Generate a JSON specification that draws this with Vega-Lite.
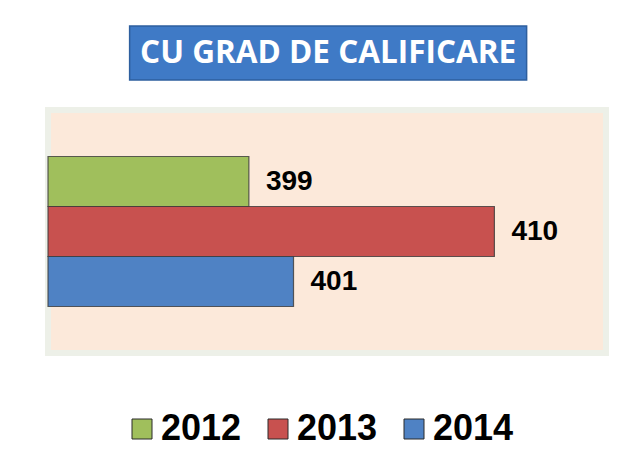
{
  "$schema": "https://vega.github.io/schema/vega-lite/v6.json",
  "background": "#ffffff",
  "padding": {"left": 44, "top": 25, "right": 5, "bottom": 5},
  "center": true,
  "spacing": 26,
  "config": {"view": {"stroke": null}},
  "resolve": {"legend": {"color": "independent"}, "scale": {"color": "independent"}},
  "datasets": {
    "heading": [{"title": "CU GRAD DE CALIFICARE"}],
    "counts": [
      {"year": "2012", "count": 399},
      {"year": "2013", "count": 410},
      {"year": "2014", "count": 401}
    ]
  },
  "vconcat": [
    {
      "width": 397,
      "height": 54,
      "data": {"name": "heading"},
      "layer": [
        {"mark": {"type": "rect", "fill": "#3F7AC6", "stroke": "#2E5F9E", "strokeWidth": 1.5}, "encoding": {}},
        {
          "mark": {"type": "text", "font": "Open Sans", "fontWeight": "bold", "fontSize": 31.5, "color": "#ffffff", "dy": 1},
          "encoding": {"text": {"field": "title", "type": "nominal"}}
        }
      ]
    },
    {
      "width": 558,
      "height": 243,
      "view": {"fill": "#FCE9DA", "stroke": "#EDF0E8", "strokeWidth": 6},
      "data": {"name": "counts"},
      "encoding": {
        "y": {"field": "year", "type": "nominal", "sort": ["2012", "2013", "2014"], "axis": null,
              "scale": {"paddingInner": 0, "paddingOuter": 0.93}},
        "x": {"field": "count", "type": "quantitative", "axis": null,
              "scale": {"domain": [390, 415], "zero": false, "nice": false, "clamp": true}}
      },
      "layer": [
        {
          "mark": {"type": "bar", "stroke": "#3a3a3a", "strokeWidth": 1.2, "strokeOpacity": 0.8},
          "encoding": {
            "color": {
              "field": "year", "type": "nominal",
              "scale": {"domain": ["2012", "2013", "2014"], "range": ["#A0BF5C", "#C8514F", "#4F82C4"]},
              "legend": {
                "orient": "none", "legendX": 76, "legendY": 301,
                "direction": "horizontal", "title": null,
                "symbolType": "square", "symbolSize": 400,
                "symbolStrokeColor": "#2b2b2b", "symbolStrokeWidth": 1,
                "labelFont": "Liberation Sans", "labelFontWeight": "bold", "labelFontSize": 36,
                "labelColor": "#000000", "labelOffset": 1, "columnPadding": 18, "labelLimit": 300
              }
            }
          }
        },
        {
          "mark": {"type": "text", "align": "left", "baseline": "middle", "dx": 17,
                   "font": "Liberation Sans", "fontWeight": "bold", "fontSize": 28, "color": "#000000"},
          "encoding": {"text": {"field": "count", "type": "quantitative"}}
        }
      ]
    }
  ]
}
